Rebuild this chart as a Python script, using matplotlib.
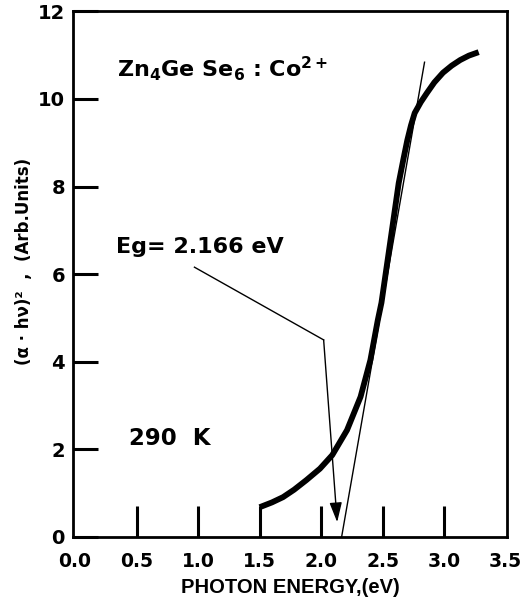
import matplotlib.pyplot as plt

plt.rcParams['font.family'] = ['DejaVu Sans']
plt.rcParams['font.weight'] = 'bold'
plt.rcParams['mathtext.fontset'] = 'custom'
plt.rcParams['mathtext.rm'] = 'DejaVu Sans:bold'
plt.rcParams['mathtext.bf'] = 'DejaVu Sans:bold'
plt.rcParams['mathtext.default'] = 'bf'

# absorption curve
energy = [1.50, 1.60, 1.69, 1.78, 1.88, 1.99, 2.09, 2.21, 2.32, 2.40, 2.46, 2.49,
          2.56, 2.63, 2.67, 2.70, 2.73, 2.76, 2.81, 2.86, 2.92, 2.99, 3.06, 3.13,
          3.20, 3.28]
absorb = [0.68, 0.79, 0.91, 1.08, 1.30, 1.56, 1.87, 2.44, 3.20, 4.04, 4.95, 5.35,
          6.71, 8.08, 8.65, 9.06, 9.40, 9.68, 9.93, 10.14, 10.38, 10.60, 10.76, 10.89,
          10.99, 11.07]

# tangent line and gap
eg = 2.166
tangent_x = [eg, 2.84]
tangent_y = [0.0, 10.84]

# pointer from the label to the gap
pointer_x = [0.97, 2.02, 2.13]
pointer_y = [6.16, 4.50, 0.34]

xticks = [0.0, 0.5, 1.0, 1.5, 2.0, 2.5, 3.0, 3.5]
yticks = [0, 2, 4, 6, 8, 10, 12]

fig = plt.figure(figsize=(5.27, 6.0), dpi=100)
ax = fig.add_axes([0.139, 0.105, 0.823, 0.876])

ax.plot(energy, absorb, color='black', lw=4.2, solid_capstyle='butt', solid_joinstyle='round')
ax.plot(tangent_x, tangent_y, color='black', lw=1.0)
ax.plot(pointer_x[:2], pointer_y[:2], color='black', lw=1.0)
ax.annotate('', xy=(pointer_x[2], pointer_y[2]), xytext=(pointer_x[1], pointer_y[1]),
            arrowprops=dict(arrowstyle='-|>,head_length=1.2,head_width=0.38',
                            color='black', lw=1.0, shrinkA=0, shrinkB=0))

ax.set_xlim(-0.015, 3.51)
ax.set_ylim(0, 12)
ax.set_xticks(xticks)
ax.set_yticks(yticks)
ax.set_xticklabels([f'{t:.1f}' for t in xticks])
ax.tick_params(axis='x', direction='in', length=22, width=2.2, labelsize=13.5, pad=11)
ax.tick_params(axis='y', direction='in', length=18, width=2.2, labelsize=14, pad=6)
xt = ax.xaxis.get_major_ticks()
xt[0].tick1line.set_visible(False)
xt[-1].tick1line.set_visible(False)
for lab in ax.get_xticklabels() + ax.get_yticklabels():
    lab.set_fontweight('bold')
for s in ax.spines.values():
    s.set_linewidth(2.0)

ax.text(0.34, 10.7, r'Zn$_4$Ge Se$_6$ : Co$^{2+}$', fontsize=16, fontweight='bold', va='center')
ax.text(0.33, 6.62, 'Eg= 2.166 eV', fontsize=16, fontweight='bold', va='center')
ax.text(0.44, 2.25, '290  K', fontsize=16.5, fontweight='bold', va='center')

ax.set_xlabel('PHOTON ENERGY,(eV)', fontsize=14.5, fontweight='bold', labelpad=5,
              family='Liberation Sans')
ax.set_ylabel('(α · hν)²  ,  (Arb.Units)', fontsize=12, fontweight='bold')
ax.yaxis.set_label_coords(-0.093, 0.525)

fig.savefig('out.png', dpi=100)
